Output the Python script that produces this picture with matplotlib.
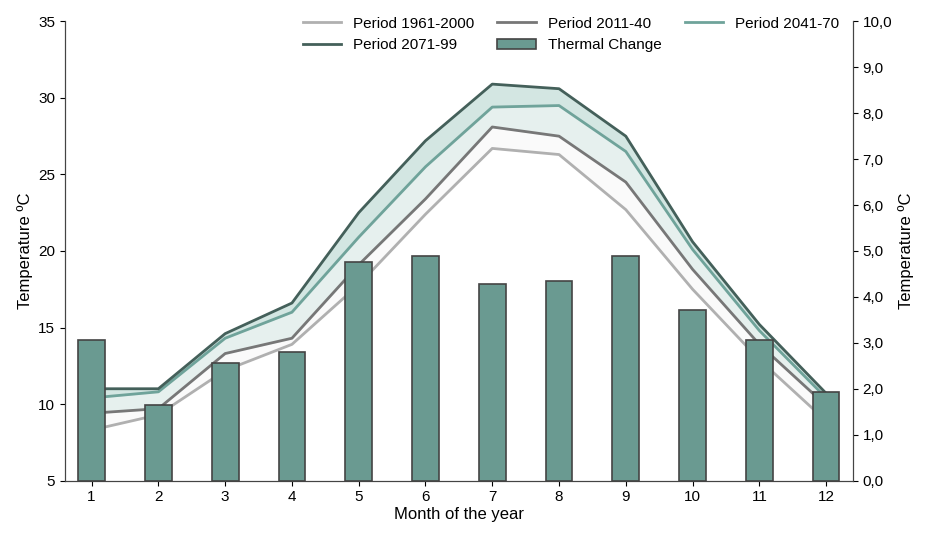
import numpy as np
import matplotlib.pyplot as plt

months = np.arange(1, 13)
p1961 = [8.3, 9.3, 12.2, 13.9, 17.8, 22.4, 26.7, 26.3, 22.7, 17.5, 12.9, 8.9]
p2011 = [9.4, 9.7, 13.3, 14.3, 19.1, 23.4, 28.1, 27.5, 24.5, 18.8, 13.9, 9.9]
p2041 = [10.4, 10.8, 14.3, 16.0, 20.9, 25.5, 29.4, 29.5, 26.5, 20.1, 14.8, 10.4]
p2071 = [11.0, 11.0, 14.6, 16.6, 22.5, 27.2, 30.9, 30.6, 27.5, 20.6, 15.2, 10.7]
cambio = [3.06, 1.64, 2.56, 2.80, 4.75, 4.90, 4.29, 4.35, 4.90, 3.72, 3.06, 1.93]

plt.rcParams['font.family'] = ['Liberation Sans', 'DejaVu Sans']
fig, ax = plt.subplots(figsize=(9.27, 5.34), dpi=100)
ax2 = ax.twinx()

ax.fill_between(months, p1961, p2011, color='#fafafa')
ax.fill_between(months, p2011, p2071, color='#e6f0ee')
ax.fill_between(months, p2041, p2071, color='#d3e6e2')
l1, = ax.plot(months, p1961, color='#b0b0b0', lw=2)
l2, = ax.plot(months, p2011, color='#777777', lw=2)
l3, = ax.plot(months, p2041, color='#6fa39a', lw=2)
l4, = ax.plot(months, p2071, color='#44605a', lw=2)
ax.set_ylim(5, 35)
ax.set_xlim(0.6, 12.4)
ax.set_xticks(months)
ax.set_ylabel('Temperature ºC', fontsize=12)
ax.set_xlabel('Month of the year', fontsize=12, labelpad=2)

b = ax2.bar(months, cambio, width=0.4, color='#6a9a91', edgecolor='#444444', linewidth=1.2)
ax2.set_ylim(0, 10)
ax2.set_yticks(np.arange(0, 10.1, 1))
ax2.set_yticklabels([f"{v:.1f}".replace('.', ',') for v in np.arange(0, 10.1, 1)])
ax2.set_ylabel('Temperature ºC', fontsize=12)

for a in (ax, ax2):
    a.tick_params(labelsize=11)
    for s in a.spines.values():
        s.set_color('#444444')
    a.spines['top'].set_visible(False)

# orden por columnas para que quede como en la figura original
ax2.legend([l1, l4, l2, b, l3],
           ['Period 1961-2000', 'Period 2071-99', 'Period 2011-40', 'Thermal Change', 'Period 2041-70'],
           ncol=3, loc='upper right', bbox_to_anchor=(1.0, 1.04), frameon=False, fontsize=11,
           handlelength=2.5, columnspacing=1.5)

fig.subplots_adjust(left=0.07, right=0.92, top=0.96, bottom=0.1)
fig.savefig('out.png')
